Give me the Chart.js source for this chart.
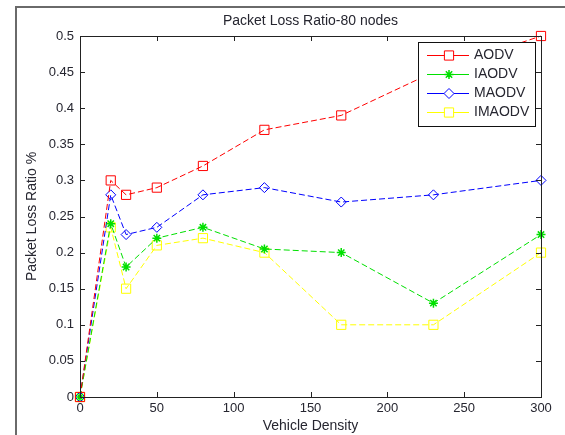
<!DOCTYPE html>
<html lang="en">
<head>
  <meta charset="UTF-8" />
  <title>Packet Loss Ratio-80 nodes</title>
  <script src="https://cdn.jsdelivr.net/npm/chart.js"></script>
  <style>
    html, body {
      margin: 0;
      padding: 0;
      background: #fff;
    }
    #wrap {
      width: 565px;
      height: 435px;
      position: relative;
    }
  </style>
</head>
<body>
  <div id="wrap">
    <canvas id="plr" width="565" height="435"></canvas>
  </div>

  <script>
    // values
    const vehicleDensity = [0, 20, 30, 50, 80, 120, 170, 230, 300];
    const aodv   = [0, 0.30, 0.28, 0.29, 0.32, 0.37, 0.39, 0.45, 0.50];
    const iaodv  = [0, 0.24, 0.18, 0.22, 0.235, 0.205, 0.20, 0.13, 0.225];
    const maodv  = [0, 0.28, 0.225, 0.235, 0.28, 0.29, 0.27, 0.28, 0.30];
    const imaodv = [0, 0.235, 0.15, 0.21, 0.22, 0.20, 0.10, 0.10, 0.20];

    const seriesNames = ['AODV', 'IAODV', 'MAODV', 'IMAODV'];
    const seriesColors = ['#ff0000', '#00e000', '#0000ff', '#ffff00'];
    const seriesMarkers = ['rect', 'star', 'rectRot', 'rect'];
    const seriesRadius = [6.5, 4.5, 5, 6.5];

    const chartTitle = 'Packet Loss Ratio-80 nodes';
    const xTitle = 'Vehicle Density';
    const yTitle = 'Packet Loss Ratio %';

    const FONT = '"Liberation Sans", Arial, sans-serif';
    const TEXT = '#262630';

    function toPoints(ys) {
      return vehicleDensity.map((x, i) => ({ x: x, y: ys[i] }));
    }

    const allSeries = [aodv, iaodv, maodv, imaodv];
    const datasets = allSeries.map((ys, i) => ({
      label: seriesNames[i],
      data: toPoints(ys),
      borderColor: seriesColors[i],
      backgroundColor: 'rgba(0,0,0,0)',
      borderWidth: 1,
      borderDash: [6, 3],
      pointStyle: seriesMarkers[i],
      pointRadius: seriesRadius[i],
      pointBorderWidth: i === 1 ? 1.5 : 1,
      pointBorderColor: seriesColors[i],
      pointBackgroundColor: 'rgba(0,0,0,0)',
      tension: 0,
      fill: false,
      clip: false
    }));

    // draws the matlab style box, inward ticks, titles and legend
    const matlabFrame = {
      id: 'matlabFrame',
      beforeDraw(chart) {
        const ctx = chart.ctx;
        ctx.save();
        ctx.fillStyle = '#fff';
        ctx.fillRect(0, 0, chart.width, chart.height);
        // figure border
        ctx.strokeStyle = '#6a6a6a';
        ctx.lineWidth = 2;
        ctx.beginPath();
        ctx.moveTo(16, chart.height);
        ctx.lineTo(16, 7);
        ctx.lineTo(chart.width, 7);
        ctx.stroke();
        ctx.restore();
      },
      afterDatasetsDraw(chart) {
        const ctx = chart.ctx;
        const a = chart.chartArea;
        const xs = chart.scales.x;
        const ys = chart.scales.y;
        ctx.save();
        ctx.strokeStyle = '#222';
        ctx.lineWidth = 1;
        ctx.strokeRect(a.left + 0.5, a.top + 0.5, a.right - a.left, a.bottom - a.top);
        ctx.beginPath();
        xs.ticks.forEach(t => {
          const px = Math.round(xs.getPixelForValue(t.value)) + 0.5;
          ctx.moveTo(px, a.bottom); ctx.lineTo(px, a.bottom - 5);
          ctx.moveTo(px, a.top); ctx.lineTo(px, a.top + 5);
        });
        ys.ticks.forEach(t => {
          const py = Math.round(ys.getPixelForValue(t.value)) + 0.5;
          ctx.moveTo(a.left, py); ctx.lineTo(a.left + 5, py);
          ctx.moveTo(a.right, py); ctx.lineTo(a.right - 5, py);
        });
        ctx.stroke();

        // titles
        ctx.fillStyle = TEXT;
        ctx.font = '14px ' + FONT;
        ctx.textAlign = 'center';
        ctx.textBaseline = 'middle';
        ctx.fillText(chartTitle, (a.left + a.right) / 2, 21);
        ctx.fillText(xTitle, (a.left + a.right) / 2, 426);
        ctx.save();
        ctx.translate(32, (a.top + a.bottom) / 2);
        ctx.rotate(-Math.PI / 2);
        ctx.fillText(yTitle, 0, 0);
        ctx.restore();
        ctx.restore();
      },
      afterDraw(chart) {
        const ctx = chart.ctx;
        const bx = 418, by = 42, bw = 117, bh = 84;
        ctx.save();
        ctx.fillStyle = '#fff';
        ctx.fillRect(bx, by, bw, bh);
        ctx.strokeStyle = '#111';
        ctx.lineWidth = 1;
        ctx.strokeRect(bx + 0.5, by + 0.5, bw, bh);
        const rowY = [55, 74, 93, 112];
        seriesNames.forEach((name, i) => {
          const y = rowY[i] + 0.5;
          ctx.strokeStyle = seriesColors[i];
          ctx.lineWidth = 1;
          ctx.setLineDash([]);
          ctx.beginPath();
          ctx.moveTo(427, y);
          ctx.lineTo(469, y);
          ctx.stroke();
          ctx.fillStyle = '#fff';
          ctx.strokeStyle = seriesColors[i];
          ctx.lineWidth = i === 1 ? 1.5 : 1;
          Chart.helpers.drawPoint(ctx, {
            pointStyle: seriesMarkers[i],
            radius: seriesRadius[i],
            borderWidth: i === 1 ? 1.5 : 1,
            rotation: 0
          }, 449, y);
          ctx.fillStyle = TEXT;
          ctx.font = '14px ' + FONT;
          ctx.textAlign = 'left';
          ctx.textBaseline = 'middle';
          ctx.fillText(name, 474, y);
        });
        ctx.restore();
      }
    };

    new Chart(document.getElementById('plr').getContext('2d'), {
      type: 'line',
      data: { datasets: datasets },
      options: {
        responsive: false,
        animation: false,
        layout: { padding: { left: 0, top: 36, right: 24, bottom: 0 } },
        plugins: {
          legend: { display: false },
          tooltip: { enabled: false },
          title: { display: false }
        },
        scales: {
          x: {
            type: 'linear',
            min: 0,
            max: 300,
            grid: { display: false, drawTicks: false },
            border: { display: false },
            ticks: {
              stepSize: 50,
              padding: 4,
              color: TEXT,
              font: { family: FONT, size: 13 },
              maxRotation: 0
            },
            afterFit(scale) { scale.height = 38; }
          },
          y: {
            type: 'linear',
            min: 0,
            max: 0.5,
            grid: { display: false, drawTicks: false },
            border: { display: false },
            ticks: {
              stepSize: 0.05,
              padding: 6,
              color: TEXT,
              font: { family: FONT, size: 13 },
              callback: v => String(parseFloat(v.toFixed(2)))
            },
            afterFit(scale) { scale.width = 80; }
          }
        }
      },
      plugins: [matlabFrame]
    });
  </script>
</body>
</html>
